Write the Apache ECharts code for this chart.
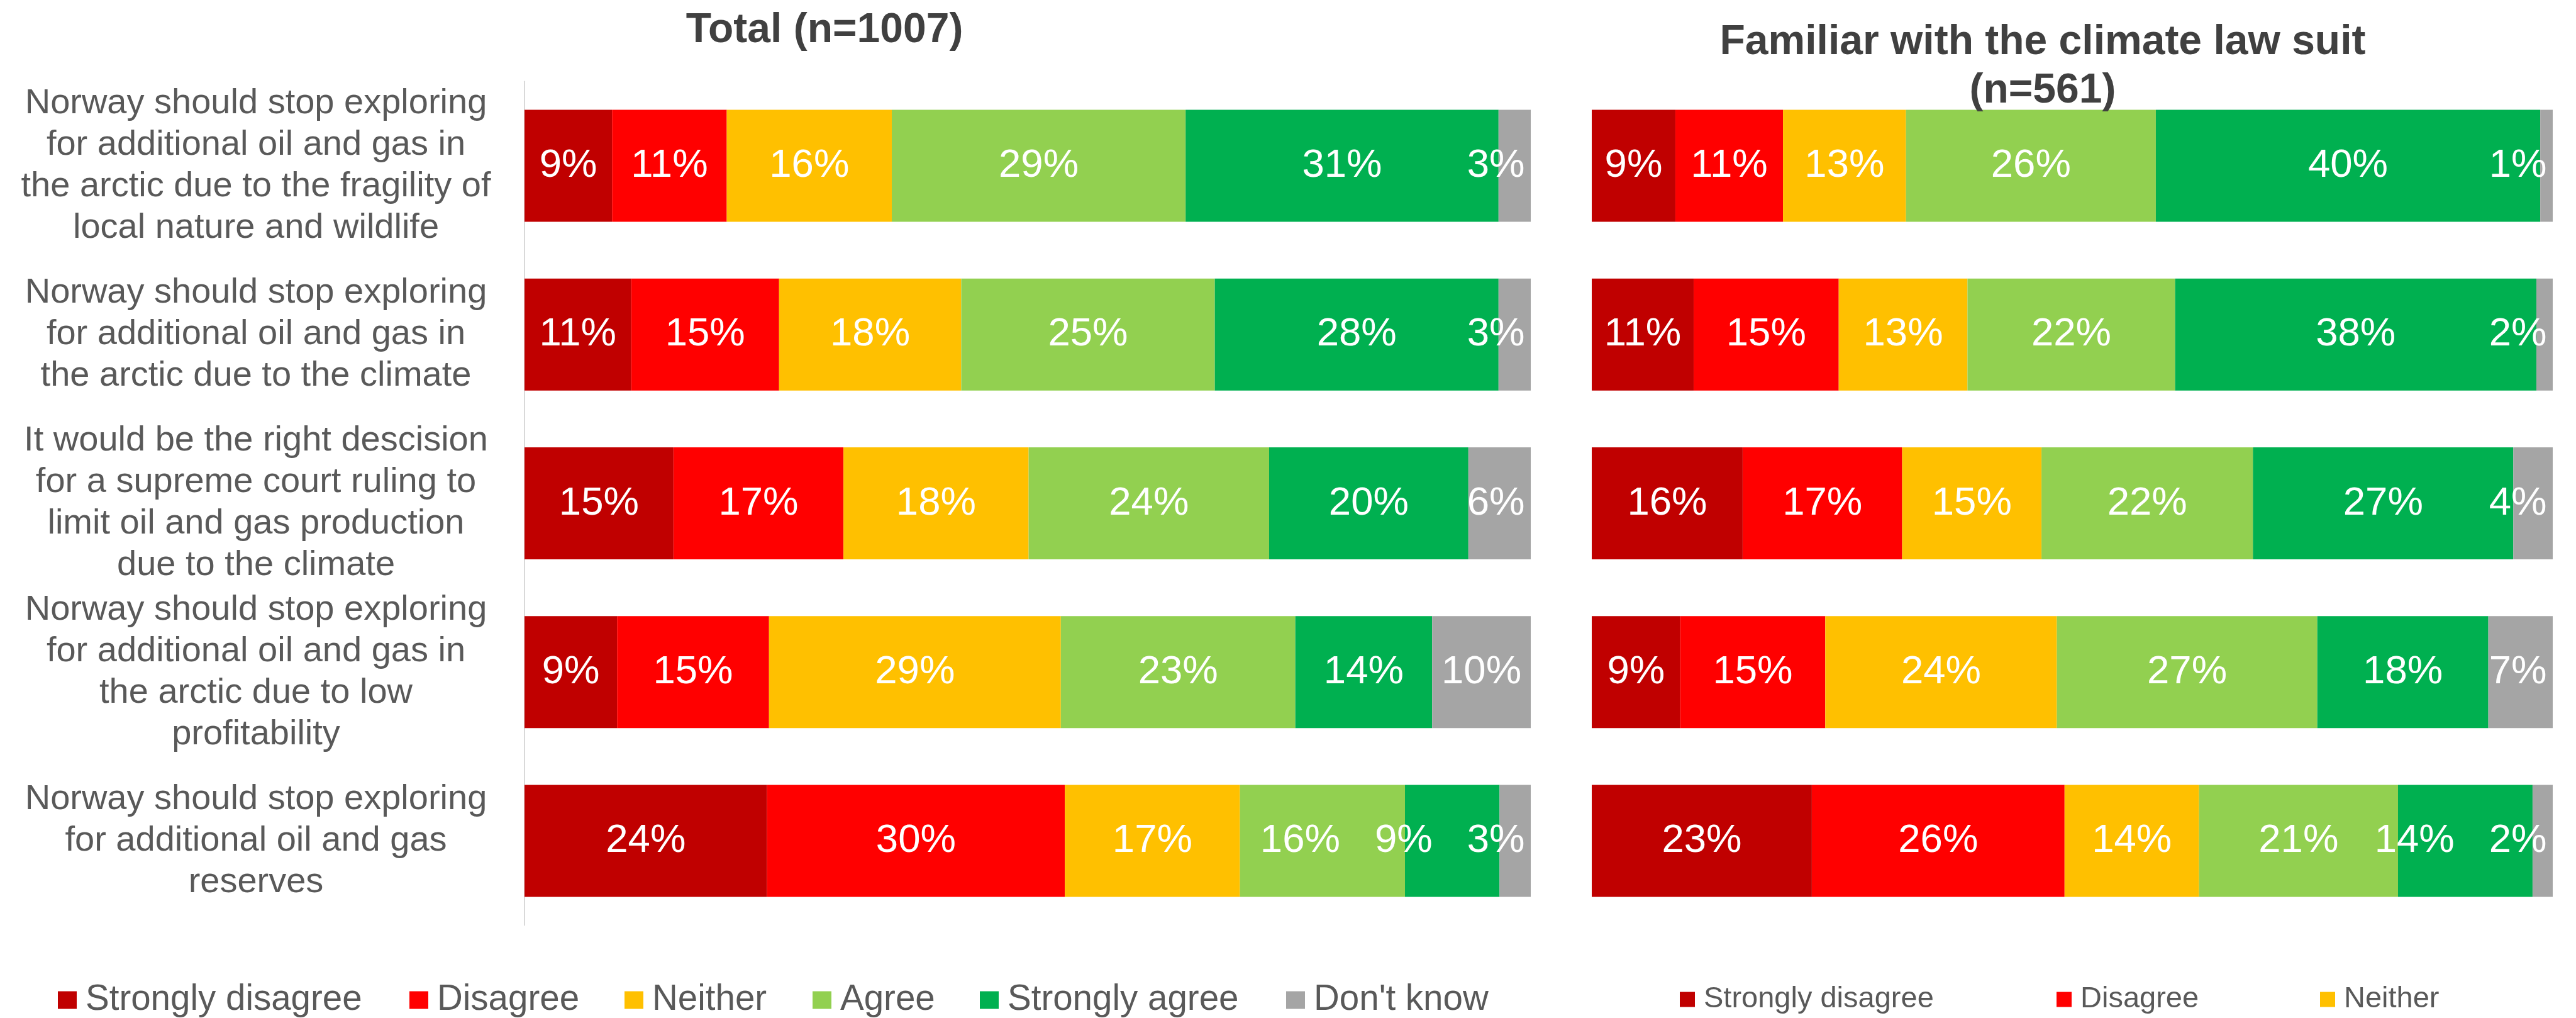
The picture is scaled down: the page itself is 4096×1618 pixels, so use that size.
<!DOCTYPE html>
<html><head><meta charset="utf-8">
<script src="https://cdn.jsdelivr.net/npm/echarts@6/dist/echarts.min.js"></script>
<style>html,body{margin:0;padding:0;background:#fff}#c{width:4096px;height:1618px}</style>
</head><body><div id="c"></div>
<script>
const categories = [
  'Norway should stop exploring\nfor additional oil and gas in\nthe arctic due to the fragility of\nlocal nature and wildlife',
  'Norway should stop exploring\nfor additional oil and gas in\nthe arctic due to the climate',
  'It would be the right descision\nfor a supreme court ruling to\nlimit oil and gas production\ndue to the climate',
  'Norway should stop exploring\nfor additional oil and gas in\nthe arctic due to low\nprofitability',
  'Norway should stop exploring\nfor additional oil and gas\nreserves'
];
const seriesNames = ['Strongly disagree', 'Disagree', 'Neither', 'Agree', 'Strongly agree', "Don't know"];
const seriesColors = ['#C00000', '#FF0000', '#FFC000', '#92D050', '#00B050', '#A5A5A5'];
const panelTitles = ['Total (n=1007)', 'Familiar with the climate law suit\n(n=561)'];

// Total (n=1007)
const totalStronglyDisagree = [8.7, 10.6, 14.8, 9.2, 24.1];
const totalDisagree         = [11.4, 14.7, 16.9, 15.1, 29.6];
const totalNeither          = [16.4, 18.1, 18.4, 29.0, 17.4];
const totalAgree            = [29.2, 25.2, 23.9, 23.3, 16.4];
const totalStronglyAgree    = [31.1, 28.2, 19.8, 13.6, 9.4];
const totalDontKnow         = [3.2, 3.2, 6.2, 9.8, 3.1];

// Familiar with the climate law suit (n=561)
const famStronglyDisagree = [8.7, 10.6, 15.7, 9.2, 22.9];
const famDisagree         = [11.2, 15.1, 16.6, 15.1, 26.3];
const famNeither          = [12.8, 13.4, 14.5, 24.1, 14.0];
const famAgree            = [26.0, 21.6, 22.0, 27.1, 20.7];
const famStronglyAgree    = [40.0, 37.6, 27.1, 17.8, 14.0];
const famDontKnow         = [1.3, 1.7, 4.1, 6.7, 2.1];

const totalData = [totalStronglyDisagree, totalDisagree, totalNeither, totalAgree, totalStronglyAgree, totalDontKnow];
const famData = [famStronglyDisagree, famDisagree, famNeither, famAgree, famStronglyAgree, famDontKnow];
const panels = [totalData, famData];

const FONT = "'Liberation Sans', Arial, sans-serif";
const LABEL_SIZE = 63.5;
const fmt = v => Math.round(v) + '%';

function makeSeries(dataSets, idx) {
  return dataSets.map((d, i) => ({
    name: seriesNames[i],
    type: 'bar',
    stack: 'p' + idx,
    xAxisIndex: idx,
    yAxisIndex: idx,
    barWidth: 178,
    clip: false,
    data: d,
    itemStyle: { color: seriesColors[i] },
    label: {
      show: true,
      position: 'inside',
      color: '#FFFFFF',
      fontFamily: FONT,
      fontSize: LABEL_SIZE,
      formatter: p => fmt(p.value)
    },
    emphasis: { disabled: true }
  }));
}

const leftLegendX = [92, 651, 993, 1292, 1558, 2045];
const rightLegendX = [2671, 3270, 3689];
const legends = [];
seriesNames.forEach((n, i) => {
  legends.push({
    left: leftLegendX[i], top: 1561, padding: 0,
    data: [n], icon: 'rect', itemWidth: 30, itemHeight: 28,
    selectedMode: false,
    textStyle: { fontFamily: FONT, fontSize: 56.5, color: '#595959', padding: [0, 0, 0, 9] }
  });
});
for (let i = 0; i < 3; i++) {
  legends.push({
    left: rightLegendX[i], top: 1565, padding: 0,
    data: [seriesNames[i]], icon: 'rect', itemWidth: 24, itemHeight: 24,
    selectedMode: false,
    textStyle: { fontFamily: FONT, fontSize: 47, color: '#595959', padding: [0, 0, 0, 9] }
  });
}

const series = makeSeries(totalData, 0).concat(makeSeries(famData, 1));

const option = {
  backgroundColor: '#FFFFFF',
  animation: false,
  title: [
    { text: panelTitles[0], left: 1311, top: 16, padding: 0, textAlign: 'center',
      textStyle: { fontFamily: FONT, fontSize: 66, fontWeight: 'bold', color: '#404040' } },
    { text: panelTitles[1], left: 3248, top: 29, padding: 0, textAlign: 'center',
      textStyle: { fontFamily: FONT, fontSize: 66, fontWeight: 'bold', color: '#404040', lineHeight: 77 } }
  ],
  legend: legends,
  grid: [
    { left: 834, width: 1600, top: 129.5, height: 1341 },
    { left: 2531, width: 1528, top: 129.5, height: 1341 }
  ],
  xAxis: [
    { type: 'value', gridIndex: 0, min: 0, max: 100, show: false },
    { type: 'value', gridIndex: 1, min: 0, max: 100, show: false }
  ],
  yAxis: [
    { type: 'category', gridIndex: 0, data: categories, inverse: true,
      axisLine: { show: true, lineStyle: { color: '#D9D9D9', width: 2 } },
      axisTick: { show: false },
      axisLabel: { fontFamily: FONT, fontSize: 56, lineHeight: 66, color: '#595959', align: 'center', margin: 427 } },
    { type: 'category', gridIndex: 1, data: categories, inverse: true,
      axisLine: { show: false }, axisTick: { show: false }, axisLabel: { show: false } }
  ],
  series: series
};

const chart = echarts.init(document.getElementById('c'), null, { renderer: 'canvas' });
chart.setOption(option);

// Label placement like the original: keep labels inside the plot end and push
// crowded labels leftwards so they do not collide.
const ctx = document.createElement('canvas').getContext('2d');
ctx.font = LABEL_SIZE + 'px ' + FONT;
const labelX = panels.map((dataSets, p) => {
  const out = dataSets.map(() => []);
  for (let r = 0; r < categories.length; r++) {
    let cum = 0;
    const segs = [];
    dataSets.forEach((d, s) => {
      const x0 = chart.convertToPixel({ gridIndex: p }, [cum, r])[0];
      cum += d[r];
      const x1 = chart.convertToPixel({ gridIndex: p }, [cum, r])[0];
      segs.push({ c: (x0 + x1) / 2, w: ctx.measureText(fmt(d[r])).width });
    });
    const right = chart.convertToPixel({ gridIndex: p }, [100, r])[0] - 9.5;
    for (let s = segs.length - 1; s >= 0; s--) {
      const g = segs[s];
      if (s === segs.length - 1) {
        if (g.c + g.w / 2 > right) g.c = right - g.w / 2;
      } else {
        const nl = segs[s + 1].c - segs[s + 1].w / 2;
        if (g.c + g.w / 2 > nl - 25) g.c = nl - 55 - g.w / 2;
      }
    }
    segs.forEach((g, s) => { out[s][r] = g.c; });
  }
  return out;
});

chart.setOption({
  series: series.map((sr, k) => {
    const p = k < 6 ? 0 : 1, s = k % 6;
    return {
      labelLayout: params => ({
        x: labelX[p][s][params.dataIndex],
        y: params.rect.y + params.rect.height / 2,
        align: 'center',
        verticalAlign: 'middle'
      })
    };
  })
});
</script>
</body></html>
